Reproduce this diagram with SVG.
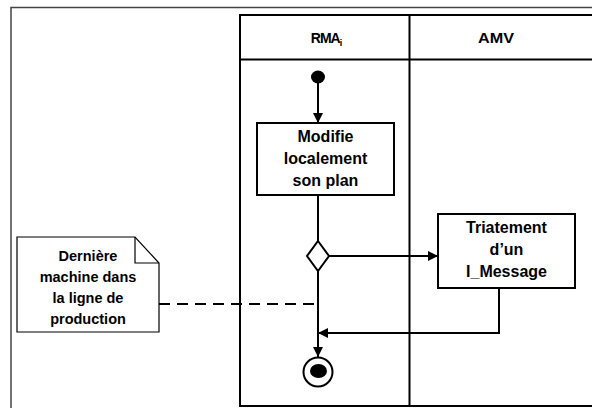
<svg xmlns="http://www.w3.org/2000/svg" width="592" height="408" viewBox="0 0 592 408">
<defs>
<marker id="arr" markerWidth="10" markerHeight="10" refX="10" refY="5" orient="auto" markerUnits="userSpaceOnUse">
<path d="M0,0 L10,5 L0,10 Z" fill="#000"/>
</marker>
<style>
.t{font-family:"Liberation Sans",Arial,sans-serif;font-weight:bold;fill:#000;text-anchor:middle}
.a{font-size:16px}
.n{font-size:14.5px}
.h{font-size:15px}
.box{fill:#fff;stroke:#000;stroke-width:2}
.ln{fill:none;stroke:#000;stroke-width:2}
</style>
</defs>
<rect width="592" height="408" fill="#fff"/>
<rect x="11" y="7.5" width="600" height="420" fill="none" stroke="#444" stroke-width="1.5"/>
<g id="pool">
<rect x="240" y="15" width="370" height="391" fill="none" stroke="#000" stroke-width="2"/>
<line x1="240" y1="59.5" x2="592" y2="59.5" stroke="#000" stroke-width="2"/>
<line x1="409.5" y1="15" x2="409.5" y2="406" stroke="#000" stroke-width="2"/>
<text class="t" x="326" y="43" font-size="14" letter-spacing="-1">RMA<tspan font-size="9" dy="3">i</tspan></text>
<text class="t h" x="496" y="43" textLength="36" lengthAdjust="spacingAndGlyphs">AMV</text>
</g>
<g id="connectors">
<line class="ln" x1="318" y1="77" x2="318" y2="123" marker-end="url(#arr)"/>
<line class="ln" x1="318" y1="195" x2="318" y2="241"/>
<line class="ln" x1="329" y1="256" x2="438" y2="256" marker-end="url(#arr)"/>
<polyline class="ln" points="499,288 499,333 318,333" marker-end="url(#arr)"/>
<line class="ln" x1="318" y1="271" x2="318" y2="357" marker-end="url(#arr)"/>
<line x1="159" y1="304" x2="318" y2="304" stroke="#000" stroke-width="2" stroke-dasharray="11,7"/>
</g>
<g id="start">
<ellipse cx="318" cy="77" rx="7" ry="6.5" fill="#000"/>
</g>
<g id="modifie">
<rect class="box" x="257" y="123" width="137" height="72"/>
<text class="t a" x="325.5" y="142">Modifie</text>
<text class="t a" x="325.5" y="164">localement</text>
<text class="t a" x="325.5" y="186">son plan</text>
</g>
<g id="decision">
<polygon points="318,241 329,256 318,271 307,256" fill="#fff" stroke="#000" stroke-width="2"/>
</g>
<g id="triatement">
<rect class="box" x="438" y="214" width="137" height="74"/>
<text class="t a" x="506.5" y="233">Triatement</text>
<text class="t a" x="506.5" y="255">d’un</text>
<text class="t a" x="506.5" y="277">I_Message</text>
</g>
<g id="end">
<circle cx="318" cy="372" r="14.5" fill="#fff" stroke="#000" stroke-width="2"/>
<ellipse cx="318.5" cy="371" rx="8.5" ry="7" fill="#000"/>
</g>
<g id="note">
<path d="M17,237 H135 L159,263 V332 H17 Z" fill="#fff" stroke="#000" stroke-width="1.2"/>
<path d="M135,237 V263 H159" fill="none" stroke="#000" stroke-width="1.2"/>
<text class="t n" x="88" y="261">Dernière</text>
<text class="t n" x="88" y="282">machine dans</text>
<text class="t n" x="88" y="303">la ligne de</text>
<text class="t n" x="88" y="324">production</text>
</g>
</svg>
